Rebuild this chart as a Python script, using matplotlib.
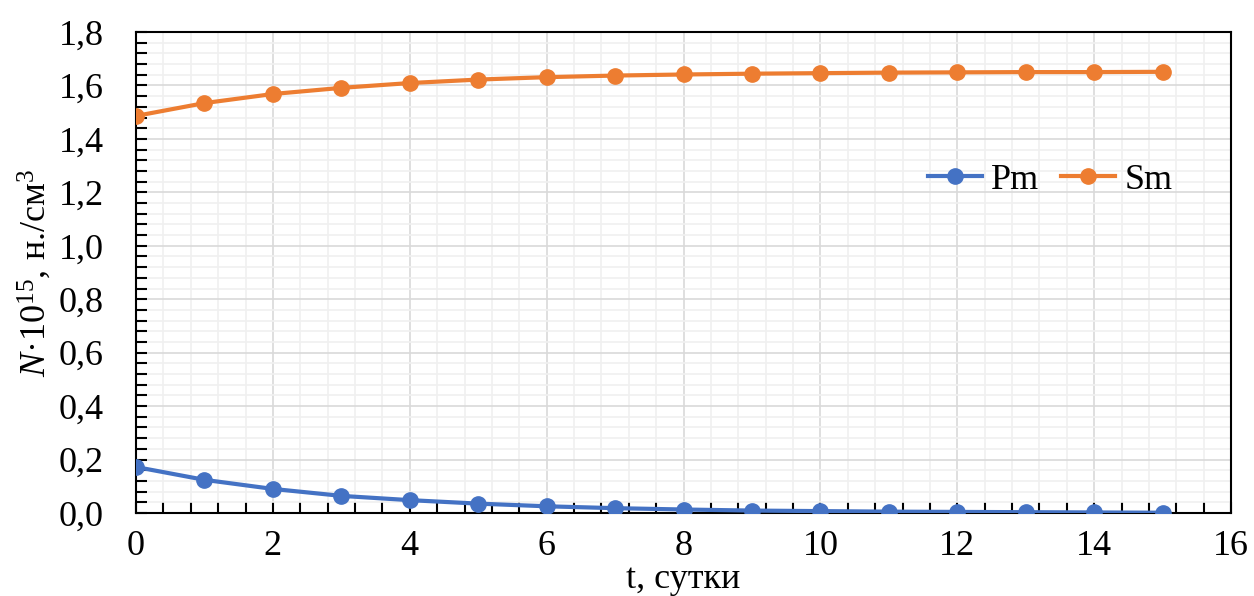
import matplotlib
matplotlib.use("Agg")
import matplotlib.pyplot as plt
from matplotlib.ticker import MultipleLocator, FuncFormatter

# ── data ──────────────────────────────────────────────────────────────────────
t_days = [0, 1, 2, 3, 4, 5, 6, 7, 8, 9, 10, 11, 12, 13, 14, 15]
pm = [0.172, 0.124, 0.090, 0.064, 0.048, 0.035, 0.025, 0.018,
      0.013, 0.009, 0.007, 0.005, 0.004, 0.003, 0.002, 0.001]
sm = [1.486, 1.534, 1.568, 1.591, 1.609, 1.622, 1.631, 1.637,
      1.641, 1.644, 1.646, 1.648, 1.649, 1.650, 1.650, 1.651]

BLUE = "#4472C4"
ORANGE = "#ED7D31"
FONT = "Liberation Serif"

plt.rcParams["font.family"] = FONT
plt.rcParams["mathtext.fontset"] = "custom"
plt.rcParams["mathtext.rm"] = FONT
plt.rcParams["mathtext.it"] = FONT + ":italic"

fig = plt.figure(figsize=(12.54, 5.96), dpi=100)
ax = fig.add_axes([0.1085, 0.1393, 0.8732, 0.8070])

ax.plot(t_days, pm, color=BLUE, lw=3, marker="o", ms=11, label="Pm", zorder=3)
ax.plot(t_days, sm, color=ORANGE, lw=3, marker="o", ms=11, label="Sm", zorder=3)

ax.set_xlim(0, 16)
ax.set_ylim(0, 1.8)
ax.xaxis.set_major_locator(MultipleLocator(2))
ax.xaxis.set_minor_locator(MultipleLocator(0.4))
ax.yaxis.set_major_locator(MultipleLocator(0.2))
ax.yaxis.set_minor_locator(MultipleLocator(0.04))
ax.yaxis.set_major_formatter(FuncFormatter(lambda v, _: f"{v:.1f}".replace(".", ",")))

ax.grid(which="major", color="#d9d9d9", lw=1.2, zorder=0)
ax.grid(which="minor", color="#f0f0f0", lw=1.2, zorder=0)
ax.set_axisbelow(True)

for s in ax.spines.values():
    s.set_color("black")
    s.set_linewidth(1.5)

ax.tick_params(which="both", direction="in", color="black", width=1.5)
ax.tick_params(which="major", length=8, labelsize=26)
ax.tick_params(which="minor", length=8)
ax.tick_params(axis="x", which="major", pad=12)
ax.tick_params(axis="y", which="major", pad=23)

ax.set_xlabel("t, сутки", fontsize=26, labelpad=0)
ax.set_ylabel(r"$N$·10$^{15}$, н./см$^3$", fontsize=26, labelpad=4)

ax.legend(loc="center", bbox_to_anchor=(0.835, 0.692), ncol=2, frameon=False,
          fontsize=26, handlelength=1.5, handletextpad=0.25, columnspacing=0.6)

fig.savefig("out.png", dpi=100)
